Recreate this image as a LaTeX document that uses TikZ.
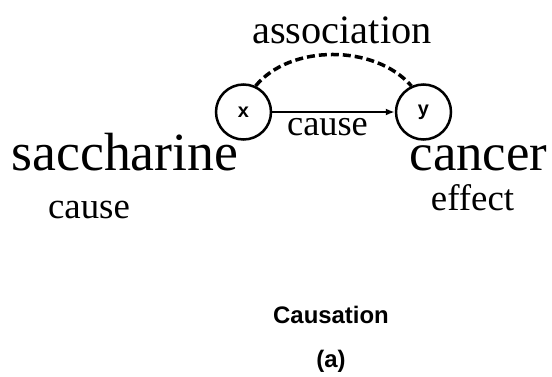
\documentclass[tikz,border=0pt]{standalone}
\usepackage{fontspec}
\setmainfont{Liberation Serif}
\setsansfont{Liberation Sans}
\usetikzlibrary{arrows.meta}

\tikzset{
  var/.style={circle, draw, line width=2.5bp, minimum size=55bp, inner sep=0pt,
    font=\sffamily\bfseries\fontsize{20}{20}\selectfont},
  caption/.style={anchor=base, font=\sffamily\bfseries\fontsize{24}{28}\selectfont}
}

\begin{document}
\begin{tikzpicture}[x=1bp, y=1bp]
\useasboundingbox (0,0) rectangle (552,376);

% Variables
\node[var] (X) at (243.5,264) {x};
\node[var] (Y) at (423.5,264) {y};

\draw[line width=2bp, -{Latex[length=9bp, width=7bp]}] (X) -- (Y);
\draw[line width=3.5bp, dashed, dash pattern=on 8bp off 4bp]
	(X.65) .. controls (290,332) and (375,332) .. (Y.115);

% Etiquetas
\node[anchor=base, font=\fontsize{40.5}{48}\selectfont] (assoc) at (342,333) {association};
\node[anchor=base, font=\fontsize{36.5}{42}\selectfont] (rel) at (327.5,241) {cause};

\node[anchor=base, font=\fontsize{54}{60}\selectfont] (sacc) at (125,206) {saccharine};
\node[anchor=base, font=\fontsize{53}{60}\selectfont] (canc) at (478.5,206) {cancer};
\node[anchor=base, font=\fontsize{37}{44}\selectfont] (causa) at (89,158) {cause};
\node[anchor=base, font=\fontsize{37}{44}\selectfont] (efec) at (472.5,166) {effect};

% Pie
\node[caption] (tit) at (331,53) {Causation};
\node[caption] (sub) at (331,9) {(a)};
\end{tikzpicture}
\end{document}
